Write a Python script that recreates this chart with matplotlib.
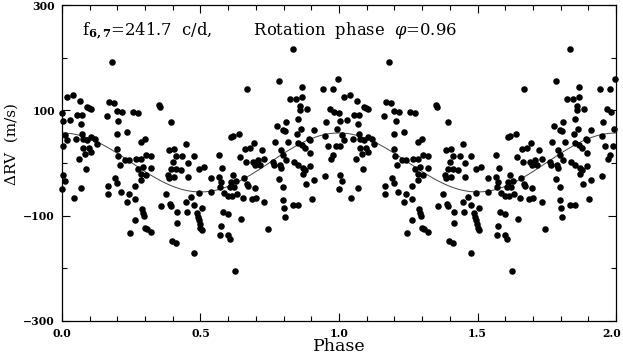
import numpy as np
import matplotlib
matplotlib.use('Agg')
import matplotlib.pyplot as plt
import matplotlib.transforms as mtransforms

# rotation phase (0..1) and radial velocity residuals (m/s)
phase = [
  # 0.00 - 0.25
  0.180, 0.018, 0.040, 0.064, 0.001, 0.004, 0.030, 0.055, 0.072, 0.068,
  0.090, 0.106, 0.096, 0.161, 0.171, 0.188, 0.198, 0.216, 0.204, 0.236,
  0.197, 0.012, 0.002, 0.019, 0.052, 0.072, 0.076, 0.091, 0.106, 0.118,
  0.127, 0.075, 0.096, 0.082, 0.103, 0.060, 0.087, 0.199, 0.202, 0.209,
  0.226, 0.243, 0.005, 0.012, 0.000, 0.068, 0.043, 0.190, 0.197, 0.166,
  0.167, 0.214, 0.233, 0.243, 0.245,
  # 0.25 - 0.50
  0.351, 0.353, 0.257, 0.275, 0.394, 0.286, 0.298, 0.268, 0.286, 0.304,
  0.322, 0.274, 0.292, 0.286, 0.304, 0.322, 0.284, 0.262, 0.262, 0.290,
  0.292, 0.295, 0.262, 0.301, 0.308, 0.322, 0.356, 0.385, 0.406, 0.447,
  0.410, 0.435, 0.475, 0.401, 0.394, 0.412, 0.454, 0.430, 0.382, 0.388,
  0.406, 0.454, 0.374, 0.389, 0.395, 0.415, 0.450, 0.449, 0.464, 0.476,
  0.416, 0.397, 0.412, 0.478, 0.487, 0.490, 0.493, 0.497, 0.500, 0.505,
  0.505,
  # 0.50 - 0.75
  0.667, 0.610, 0.619, 0.639, 0.566, 0.659, 0.677, 0.692, 0.722, 0.642,
  0.665, 0.689, 0.707, 0.697, 0.716, 0.731, 0.496, 0.512, 0.577, 0.539,
  0.568, 0.575, 0.571, 0.617, 0.611, 0.628, 0.622, 0.606, 0.656, 0.668,
  0.673, 0.695, 0.539, 0.494, 0.584, 0.599, 0.615, 0.632, 0.652, 0.685,
  0.701, 0.731, 0.582, 0.599, 0.646, 0.575, 0.571, 0.599, 0.607, 0.743,
  0.625,
  # 0.75 - 1.00
  0.834, 0.784, 0.868, 0.941, 0.977, 0.995, 0.822, 0.844, 0.868, 0.858,
  0.860, 0.884, 0.969, 0.981, 0.851, 0.810, 0.777, 0.797, 0.805, 0.863,
  0.908, 0.952, 0.993, 0.769, 0.815, 0.849, 0.851, 0.890, 0.895, 0.948,
  0.868, 0.877, 0.897, 0.962, 0.989, 0.760, 0.765, 0.788, 0.791, 0.809,
  0.839, 0.853, 0.870, 0.877, 0.897, 0.978, 0.971, 0.871, 0.784, 0.799,
  0.882, 0.909, 0.948, 0.791, 0.797, 0.798, 0.800, 0.805, 0.833, 0.851,
  0.901,
]
rv = [
  192, 125, 130, 118, 95, 80, 82, 92, 91, 75,
  107, 102, 104, 89, 116, 114, 98, 97, 80, 58,
  56, 54, 32, 43, 46, 56, 46, 43, 49, 46,
  37, 29, 29, 18, 20, 8, -11, 27, 13, -4,
  5, 5, -22, -34, -49, -47, -67, -28, -38, -43,
  -59, -56, -75, -59, -132,
  111, 107, 97, 94, 78, 40, 46, 7, 8, 16,
  13, -11, -8, -20, -22, -9, -33, -44, -68, -87,
  -95, -101, -108, -123, -126, -131, -82, 24, 27, 37,
  13, 14, 13, 2, -11, -11, 0, -13, -23, -29,
  -27, -27, -59, -77, -82, -93, -94, -75, -65, -80,
  -113, -149, -151, -170, -95, -102, -109, -115, -124, -128,
  -85,
  140, 49, 52, 56, 16, 27, 29, 38, 25, 11,
  2, 2, 6, -4, -3, 8, -11, -8, -9, -28,
  -27, -36, -46, -22, -36, -34, -46, -46, -28, -40,
  -44, -48, -55, -57, -57, -62, -63, -58, -66, -68,
  -66, -75, -94, -96, -107, -120, -136, -137, -145, -126,
  -206,
  217, 155, 145, 140, 140, 159, 121, 121, 126, 109,
  100, 103, 103, 97, 84, 78, 71, 63, 61, 65,
  63, 78, 65, 40, 40, 56, 38, 46, 43, 51,
  35, 29, 19, 33, 32, 2, -4, -3, -10, 6,
  1, -4, -9, -13, -6, 15, 8, -20, -30, -46,
  -39, -33, -25, 24, 16, -70, -85, -102, -79, -79,
  -68,
]

# sinusoid fit to the rotational modulation
fit_amp = 56.0
fit_zero = 1.0
fit_phase0 = 0.0

xticks_major = [0.0, 0.5, 1.0, 1.5, 2.0]
xtick_labels = ['0.0', '0.5', '1.0', '1.5', '2.0']
yticks_major = [-300, -100, 100, 300]
ytick_labels = ['\u2212300', '\u2212100', '100', '300']
yticks_minor = [-200, 0, 200]

plt.rcParams['font.family'] = 'DejaVu Serif'
plt.rcParams['mathtext.fontset'] = 'dejavuserif'

fig = plt.figure(figsize=(6.23, 3.58), dpi=100)
ax = fig.add_axes([0.0995, 0.1034, 0.8893, 0.8826])

ph = np.array(phase)
val = np.array(rv)
# plot two cycles
ax.plot(np.concatenate([ph, ph + 1.0]), np.concatenate([val, val]), 'o',
        color='black', ms=4.7, mec='black', mew=0, clip_on=False, zorder=3)

xx = np.linspace(0.0, 2.0, 400)
ax.plot(xx, fit_zero + fit_amp * np.cos(2 * np.pi * (xx - fit_phase0)),
        color='#444444', lw=0.7, zorder=2)

ax.set_xlim(0.0, 2.0)
ax.set_ylim(-300, 300)
ax.set_xticks(xticks_major)
ax.set_xticklabels(xtick_labels, fontweight='bold', fontsize=7.8)
ax.set_xticks(np.arange(0.0, 2.01, 0.1), minor=True)
ax.set_yticks(yticks_major)
ax.set_yticklabels(ytick_labels, fontweight='bold', fontsize=7.8)
ax.set_yticks(yticks_minor, minor=True)
ax.tick_params(which='both', direction='in', top=True, right=True, width=0.8)
ax.tick_params(which='major', length=6, pad=5)
ax.tick_params(which='minor', length=3.5)
for sp in ax.spines.values():
  sp.set_linewidth(0.9)

# last x label sits right at the figure edge, pull it in a touch
lastlab = ax.get_xticklabels()[-1]
lastlab.set_transform(lastlab.get_transform() +
                      mtransforms.ScaledTranslation(-3 / 72, 0, fig.dpi_scale_trans))

ax.set_xlabel('Phase', fontsize=12.5, labelpad=-1)
ax.set_ylabel('\u0394RV  (m/s)', fontsize=11)
ax.yaxis.set_label_coords(-0.079, 0.56)

ax.text(0.037, 0.905, r'f$_{\mathbf{6,7}}$=241.7  c/d,        Rotation  phase  $\varphi$=0.96',
        transform=ax.transAxes, fontsize=11.8, ha='left', va='baseline')

fig.savefig('out.png', dpi=100)
